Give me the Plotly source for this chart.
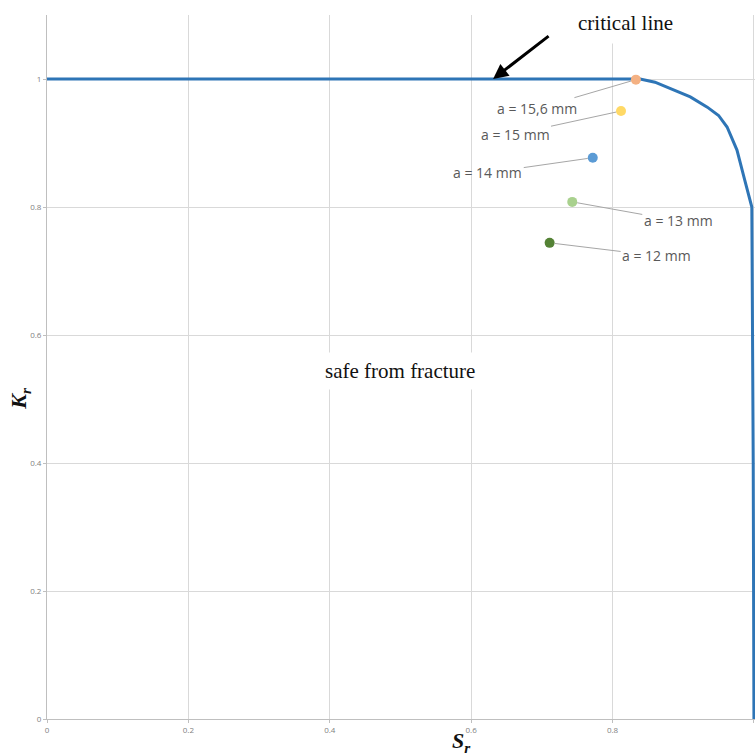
import plotly.graph_objects as go

# Failure assessment curve (critical line)
curve_sr = [0, 0.1, 0.2, 0.3, 0.4, 0.5, 0.6, 0.7, 0.8, 0.839, 0.86, 0.885, 0.91, 0.934, 0.95, 0.962, 0.976, 0.987, 0.997, 0.999, 1.0]
curve_kr = [1.0, 1.0, 1.0, 1.0, 1.0, 1.0, 1.0, 1.0, 1.0, 1.0, 0.995, 0.983, 0.972, 0.956, 0.943, 0.925, 0.889, 0.842, 0.8, 0.4, 0.0]

# Crack-size assessment points
point_labels = ["a = 15,6 mm", "a = 15 mm", "a = 14 mm", "a = 13 mm", "a = 12 mm"]
point_sr = [0.833, 0.812, 0.772, 0.743, 0.711]
point_kr = [0.999, 0.95, 0.877, 0.808, 0.744]
point_colors = ["#F4B183", "#FFD966", "#5B9BD5", "#A9D18E", "#548235"]
label_dx = [-99, -106, -105, 106, 107]
label_dy = [29, 23, 15, 19, 13]

x_ticks = [0, 0.2, 0.4, 0.6, 0.8, 1]
y_ticks = [0, 0.2, 0.4, 0.6, 0.8, 1]

fig = go.Figure()
fig.add_trace(go.Scatter(x=curve_sr, y=curve_kr, mode="lines",
                         line=dict(color="#2E75B6", width=3), showlegend=False,
                         hoverinfo="skip"))
for lbl, sx, ky, col in zip(point_labels, point_sr, point_kr, point_colors):
    fig.add_trace(go.Scatter(x=[sx], y=[ky], mode="markers",
                             marker=dict(color=col, size=10), showlegend=False,
                             name=lbl, cliponaxis=False))

annotations = []
for lbl, sx, ky, dx, dy in zip(point_labels, point_sr, point_kr, label_dx, label_dy):
    annotations.append(dict(x=sx, y=ky, xref="x", yref="y", text=lbl,
                            showarrow=True, arrowhead=0, arrowwidth=1,
                            arrowcolor="#A6A6A6", ax=dx, ay=dy, standoff=5,
                            font=dict(family="Open Sans", size=14, color="#595959")))

# critical line arrow
annotations.append(dict(x=0.631, y=1.0, xref="x", yref="y", text="", showarrow=True,
                        arrowhead=2, arrowsize=1, arrowwidth=3, arrowcolor="#000000",
                        ax=57, ay=-44))
# critical line label
annotations.append(dict(x=(625 - 47) / 708, y=(753 - 23 - 34) / 704, xref="paper", yref="paper",
                        text="critical line", showarrow=False, bgcolor="white", borderpad=8,
                        xanchor="center", yanchor="middle",
                        font=dict(family="Liberation Serif", size=21, color="#111111")))
annotations.append(dict(x=0.5, y=0.543, xref="x", yref="y", text="safe from fracture",
                        showarrow=False, bgcolor="white", borderpad=6,
                        font=dict(family="Liberation Serif", size=21, color="#111111")))
# axis titles
annotations.append(dict(x=0.586, y=-0.033, xref="paper", yref="paper",
                        text="<b><i>S<sub>r</sub></i></b>", showarrow=False,
                        xanchor="center", yanchor="middle",
                        font=dict(family="Liberation Serif", size=22, color="#111111")))
annotations.append(dict(x=-0.038, y=0.455, xref="paper", yref="paper",
                        text="<b><i>K<sub>r</sub></i></b>", showarrow=False, textangle=-90,
                        xanchor="center", yanchor="middle",
                        font=dict(family="Liberation Serif", size=22, color="#111111")))

fig.update_layout(
    width=755, height=753,
    margin=dict(l=47, r=0, t=15, b=34),
    plot_bgcolor="white", paper_bgcolor="white",
    annotations=annotations,
    xaxis=dict(range=[0, 1.0015], tickvals=x_ticks, ticktext=["0", "0.2", "0.4", "0.6", "0.8", "1"],
               showgrid=True, gridcolor="#D9D9D9", gridwidth=1, zeroline=False,
               showline=True, linecolor="#BFBFBF", linewidth=1,
               ticks="outside", ticklen=3, tickcolor="#BFBFBF",
               tickfont=dict(family="Open Sans", size=8, color="#7F7F7F")),
    yaxis=dict(range=[0, 1.1], tickvals=y_ticks, ticktext=["0", "0.2", "0.4", "0.6", "0.8", "1"],
               showgrid=True, gridcolor="#D9D9D9", gridwidth=1, zeroline=False,
               showline=True, linecolor="#BFBFBF", linewidth=1,
               ticks="outside", ticklen=3, tickcolor="#BFBFBF",
               tickfont=dict(family="Open Sans", size=8, color="#7F7F7F")),
)

fig.write_html("out.html", config={"displayModeBar": False},
               post_script="document.body.style.margin='0';document.body.style.overflow='hidden';")
